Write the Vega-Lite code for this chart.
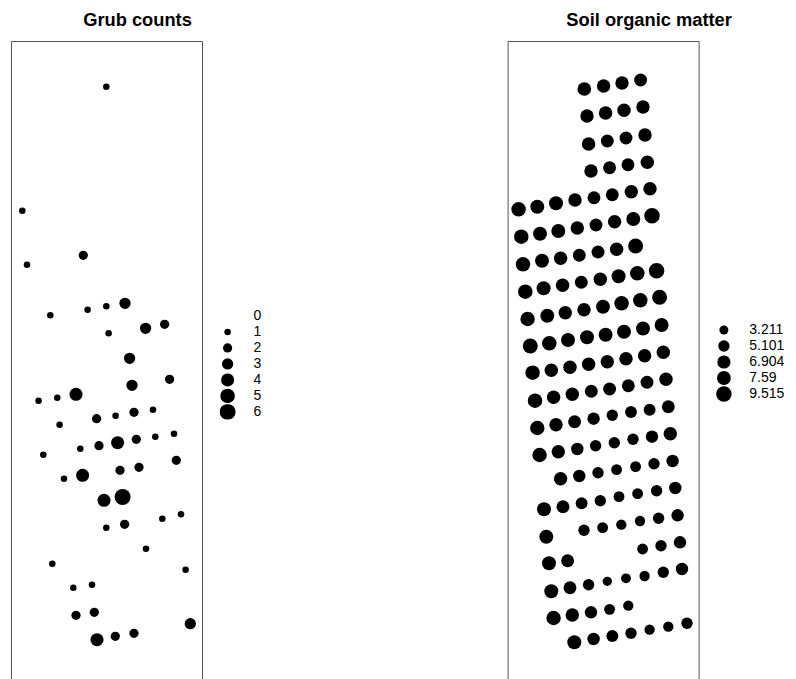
{
  "$schema": "https://vega.github.io/schema/vega-lite/v6.json",
  "background": "white",
  "padding": {"left": 10, "top": 10, "right": 5, "bottom": 0},
  "bounds": "flush",
  "spacing": 305.6,
  "resolve": {"scale": {"size": "independent"}, "legend": {"size": "independent"}},
  "config": {
    "view": {"stroke": "#555555", "strokeWidth": 1},
    "font": "Liberation Sans",
    "title": {"font": "Liberation Sans", "fontSize": 18.3, "fontWeight": "bold", "color": "black", "anchor": "middle", "frame": "group", "offset": 11},
    "legend": {
      "orient": "none", "direction": "vertical", "padding": 0, "rowPadding": 0,
      "labelFont": "Liberation Sans", "labelFontSize": 14, "labelColor": "black",
      "symbolType": "circle", "symbolFillColor": "black", "symbolStrokeWidth": 0, "symbolOpacity": 1
    }
  },
  "datasets": {
    "grubs": [
      {"east": 95.3, "north": 593.3, "grubs": 1},
      {"east": 11.3, "north": 469.3, "grubs": 1},
      {"east": 72.3, "north": 424.7, "grubs": 2},
      {"east": 16.0, "north": 415.3, "grubs": 1},
      {"east": 39.3, "north": 364.7, "grubs": 1},
      {"east": 76.6, "north": 370.3, "grubs": 1},
      {"east": 95.3, "north": 373.7, "grubs": 1},
      {"east": 114.0, "north": 376.7, "grubs": 3},
      {"east": 134.6, "north": 351.7, "grubs": 3},
      {"east": 153.6, "north": 355.7, "grubs": 2},
      {"east": 97.6, "north": 346.7, "grubs": 1},
      {"east": 118.6, "north": 321.7, "grubs": 3},
      {"east": 121.0, "north": 294.7, "grubs": 3},
      {"east": 158.6, "north": 300.7, "grubs": 2},
      {"east": 27.6, "north": 279.3, "grubs": 1},
      {"east": 46.3, "north": 282.3, "grubs": 1},
      {"east": 65.0, "north": 285.7, "grubs": 4},
      {"east": 142.0, "north": 270.3, "grubs": 1},
      {"east": 123.0, "north": 267.7, "grubs": 2},
      {"east": 104.6, "north": 264.3, "grubs": 1},
      {"east": 85.6, "north": 261.3, "grubs": 2},
      {"east": 48.6, "north": 255.3, "grubs": 1},
      {"east": 163.0, "north": 246.3, "grubs": 1},
      {"east": 144.3, "north": 243.3, "grubs": 1},
      {"east": 125.3, "north": 240.7, "grubs": 2},
      {"east": 106.6, "north": 237.3, "grubs": 4},
      {"east": 88.0, "north": 234.3, "grubs": 2},
      {"east": 69.3, "north": 231.3, "grubs": 1},
      {"east": 32.3, "north": 225.3, "grubs": 1},
      {"east": 165.3, "north": 219.7, "grubs": 2},
      {"east": 128.0, "north": 212.7, "grubs": 2},
      {"east": 109.0, "north": 209.7, "grubs": 2},
      {"east": 71.6, "north": 204.7, "grubs": 4},
      {"east": 53.0, "north": 201.3, "grubs": 1},
      {"east": 111.6, "north": 183.0, "grubs": 6},
      {"east": 93.0, "north": 179.7, "grubs": 4},
      {"east": 170.0, "north": 165.7, "grubs": 1},
      {"east": 151.3, "north": 161.3, "grubs": 1},
      {"east": 113.6, "north": 155.7, "grubs": 2},
      {"east": 95.3, "north": 152.3, "grubs": 1},
      {"east": 135.0, "north": 131.3, "grubs": 1},
      {"east": 41.3, "north": 116.3, "grubs": 1},
      {"east": 174.6, "north": 110.3, "grubs": 1},
      {"east": 81.0, "north": 95.3, "grubs": 1},
      {"east": 62.3, "north": 92.3, "grubs": 1},
      {"east": 83.3, "north": 67.7, "grubs": 2},
      {"east": 65.0, "north": 64.7, "grubs": 2},
      {"east": 179.3, "north": 56.3, "grubs": 3},
      {"east": 123.0, "north": 46.7, "grubs": 2},
      {"east": 104.3, "north": 43.7, "grubs": 2},
      {"east": 86.0, "north": 40.3, "grubs": 4}
    ],
    "soil": [
      {"east": 76.7, "north": 591.0, "om": 7.48},
      {"east": 96.0, "north": 594.0, "om": 7.15},
      {"east": 114.4, "north": 597.0, "om": 7.15},
      {"east": 133.0, "north": 600.0, "om": 6.61},
      {"east": 79.4, "north": 564.0, "om": 7.15},
      {"east": 98.0, "north": 567.0, "om": 7.15},
      {"east": 116.4, "north": 569.7, "om": 7.15},
      {"east": 135.4, "north": 573.0, "om": 7.15},
      {"east": 81.0, "north": 536.0, "om": 7.15},
      {"east": 99.7, "north": 539.0, "om": 6.61},
      {"east": 118.4, "north": 542.0, "om": 6.61},
      {"east": 137.4, "north": 545.0, "om": 7.15},
      {"east": 83.4, "north": 509.0, "om": 7.15},
      {"east": 102.0, "north": 512.3, "om": 6.61},
      {"east": 120.4, "north": 515.3, "om": 6.61},
      {"east": 139.7, "north": 517.7, "om": 7.15},
      {"east": 11.0, "north": 470.7, "om": 8.29},
      {"east": 29.7, "north": 473.3, "om": 7.71},
      {"east": 48.4, "north": 476.7, "om": 7.71},
      {"east": 67.4, "north": 480.0, "om": 7.15},
      {"east": 86.4, "north": 482.3, "om": 6.61},
      {"east": 104.7, "north": 485.3, "om": 6.61},
      {"east": 123.7, "north": 488.3, "om": 7.15},
      {"east": 142.4, "north": 491.3, "om": 7.15},
      {"east": 13.7, "north": 443.3, "om": 8.29},
      {"east": 32.4, "north": 446.3, "om": 7.71},
      {"east": 50.7, "north": 449.0, "om": 7.71},
      {"east": 69.7, "north": 452.0, "om": 7.15},
      {"east": 88.4, "north": 455.0, "om": 6.61},
      {"east": 107.0, "north": 458.3, "om": 7.15},
      {"east": 125.7, "north": 461.0, "om": 7.71},
      {"east": 144.4, "north": 464.3, "om": 9.52},
      {"east": 15.4, "north": 415.7, "om": 8.29},
      {"east": 34.4, "north": 419.3, "om": 7.71},
      {"east": 53.0, "north": 421.7, "om": 7.15},
      {"east": 71.7, "north": 424.7, "om": 6.61},
      {"east": 90.4, "north": 428.0, "om": 6.61},
      {"east": 109.0, "north": 430.7, "om": 7.15},
      {"east": 128.0, "north": 434.0, "om": 8.89},
      {"east": 17.7, "north": 388.3, "om": 8.29},
      {"east": 36.0, "north": 391.7, "om": 7.71},
      {"east": 55.0, "north": 394.7, "om": 7.15},
      {"east": 73.7, "north": 397.7, "om": 6.61},
      {"east": 92.7, "north": 400.7, "om": 7.15},
      {"east": 111.0, "north": 403.7, "om": 7.71},
      {"east": 129.7, "north": 406.7, "om": 8.29},
      {"east": 149.0, "north": 409.3, "om": 9.52},
      {"east": 20.0, "north": 361.0, "om": 8.29},
      {"east": 39.7, "north": 364.3, "om": 7.71},
      {"east": 57.7, "north": 367.3, "om": 7.15},
      {"east": 76.4, "north": 370.3, "om": 7.15},
      {"east": 95.4, "north": 373.3, "om": 7.71},
      {"east": 114.0, "north": 376.7, "om": 8.29},
      {"east": 132.7, "north": 379.7, "om": 8.29},
      {"east": 152.0, "north": 382.7, "om": 8.89},
      {"east": 22.7, "north": 334.0, "om": 8.89},
      {"east": 41.7, "north": 336.7, "om": 8.29},
      {"east": 60.4, "north": 340.0, "om": 7.71},
      {"east": 79.4, "north": 342.7, "om": 7.71},
      {"east": 98.0, "north": 345.3, "om": 7.71},
      {"east": 116.4, "north": 348.3, "om": 7.71},
      {"east": 135.4, "north": 351.5, "om": 7.71},
      {"east": 154.0, "north": 355.0, "om": 7.71},
      {"east": 25.0, "north": 307.3, "om": 8.29},
      {"east": 43.7, "north": 309.7, "om": 7.15},
      {"east": 62.4, "north": 312.7, "om": 7.15},
      {"east": 81.0, "north": 315.7, "om": 7.15},
      {"east": 99.7, "north": 318.3, "om": 7.15},
      {"east": 118.4, "north": 321.3, "om": 7.15},
      {"east": 137.0, "north": 324.3, "om": 7.15},
      {"east": 155.7, "north": 327.7, "om": 7.15},
      {"east": 27.4, "north": 279.3, "om": 8.29},
      {"east": 46.0, "north": 282.7, "om": 7.15},
      {"east": 64.7, "north": 285.7, "om": 7.15},
      {"east": 83.7, "north": 288.7, "om": 6.61},
      {"east": 102.0, "north": 291.0, "om": 6.61},
      {"east": 120.7, "north": 294.3, "om": 6.61},
      {"east": 139.4, "north": 297.7, "om": 6.61},
      {"east": 158.4, "north": 300.7, "om": 7.15},
      {"east": 29.7, "north": 252.0, "om": 8.29},
      {"east": 48.4, "north": 255.3, "om": 7.15},
      {"east": 67.0, "north": 258.3, "om": 6.61},
      {"east": 86.0, "north": 261.3, "om": 6.09},
      {"east": 104.7, "north": 264.7, "om": 5.12},
      {"east": 123.4, "north": 268.0, "om": 5.59},
      {"east": 142.0, "north": 270.3, "om": 5.59},
      {"east": 160.7, "north": 273.3, "om": 6.61},
      {"east": 32.0, "north": 225.0, "om": 8.29},
      {"east": 50.7, "north": 228.3, "om": 7.15},
      {"east": 69.7, "north": 231.0, "om": 6.09},
      {"east": 88.0, "north": 234.3, "om": 5.12},
      {"east": 106.7, "north": 237.3, "om": 5.12},
      {"east": 125.4, "north": 240.7, "om": 5.12},
      {"east": 144.4, "north": 243.3, "om": 6.09},
      {"east": 162.7, "north": 246.3, "om": 7.15},
      {"east": 53.0, "north": 201.3, "om": 7.15},
      {"east": 71.7, "north": 204.0, "om": 6.09},
      {"east": 90.4, "north": 207.3, "om": 5.12},
      {"east": 109.0, "north": 210.3, "om": 4.66},
      {"east": 128.0, "north": 213.3, "om": 4.66},
      {"east": 146.4, "north": 216.3, "om": 5.12},
      {"east": 165.0, "north": 219.0, "om": 6.09},
      {"east": 36.4, "north": 170.7, "om": 7.71},
      {"east": 55.4, "north": 173.3, "om": 6.61},
      {"east": 74.0, "north": 176.7, "om": 5.59},
      {"east": 92.7, "north": 179.3, "om": 5.12},
      {"east": 111.4, "north": 183.3, "om": 4.66},
      {"east": 130.0, "north": 186.3, "om": 4.66},
      {"east": 149.0, "north": 189.3, "om": 5.12},
      {"east": 167.7, "north": 192.0, "om": 6.09},
      {"east": 38.7, "north": 143.3, "om": 7.71},
      {"east": 76.4, "north": 149.7, "om": 5.12},
      {"east": 95.0, "north": 152.3, "om": 4.66},
      {"east": 113.7, "north": 155.3, "om": 4.23},
      {"east": 132.4, "north": 159.0, "om": 4.23},
      {"east": 151.0, "north": 161.7, "om": 5.12},
      {"east": 170.0, "north": 164.7, "om": 6.09},
      {"east": 41.4, "north": 116.7, "om": 7.71},
      {"east": 60.0, "north": 119.3, "om": 6.61},
      {"east": 135.0, "north": 131.0, "om": 4.66},
      {"east": 153.4, "north": 134.3, "om": 5.12},
      {"east": 172.4, "north": 137.7, "om": 6.09},
      {"east": 43.7, "north": 88.7, "om": 7.71},
      {"east": 62.4, "north": 92.3, "om": 6.61},
      {"east": 81.0, "north": 95.3, "om": 5.12},
      {"east": 99.7, "north": 98.7, "om": 3.43},
      {"east": 118.4, "north": 101.7, "om": 3.82},
      {"east": 137.0, "north": 104.0, "om": 4.23},
      {"east": 155.7, "north": 107.7, "om": 5.12},
      {"east": 174.4, "north": 111.0, "om": 6.09},
      {"east": 46.0, "north": 62.0, "om": 8.29},
      {"east": 64.7, "north": 65.0, "om": 7.15},
      {"east": 83.4, "north": 67.7, "om": 6.09},
      {"east": 102.0, "north": 70.7, "om": 4.66},
      {"east": 120.7, "north": 74.3, "om": 4.23},
      {"east": 66.7, "north": 37.7, "om": 7.71},
      {"east": 86.0, "north": 41.0, "om": 6.09},
      {"east": 104.7, "north": 44.0, "om": 5.59},
      {"east": 123.4, "north": 46.7, "om": 5.12},
      {"east": 142.0, "north": 50.3, "om": 4.23},
      {"east": 160.7, "north": 53.3, "om": 4.23},
      {"east": 179.4, "north": 56.7, "om": 5.12}
    ]
  },
  "hconcat": [
    {
      "title": {"text": "Grub counts", "dx": 31},
      "width": 191,
      "height": 650,
      "data": {"name": "grubs"},
      "mark": {"type": "circle", "color": "black", "opacity": 1},
      "encoding": {
        "x": {"field": "east", "type": "quantitative", "scale": {"domain": [0, 191], "nice": false, "zero": false}, "axis": null},
        "y": {"field": "north", "type": "quantitative", "scale": {"domain": [-11, 639], "nice": false, "zero": false}, "axis": null},
        "size": {
          "field": "grubs", "type": "quantitative",
          "scale": {"domain": [0, 6], "range": [0, 256], "zero": true},
          "legend": {"title": null, "values": [0, 1, 2, 3, 4, 5, 6], "legendX": 208.6, "legendY": 267.3, "clipHeight": 15.3, "labelOffset": 18}
        }
      }
    },
    {
      "title": {"text": "Soil organic matter", "dx": 46},
      "width": 191,
      "height": 650,
      "data": {"name": "soil"},
      "mark": {"type": "circle", "color": "black", "opacity": 1},
      "encoding": {
        "x": {"field": "east", "type": "quantitative", "scale": {"domain": [0, 191], "nice": false, "zero": false}, "axis": null},
        "y": {"field": "north", "type": "quantitative", "scale": {"domain": [-11, 639], "nice": false, "zero": false}, "axis": null},
        "size": {
          "field": "om", "type": "quantitative",
          "scale": {"domain": [0, 9.515], "range": [0, 240], "zero": true},
          "legend": {"title": null, "values": [3.211, 5.101, 6.904, 7.59, 9.515], "labelExpr": "'' + datum.value", "legendX": 208.3, "legendY": 281, "clipHeight": 16, "labelOffset": 17.3}
        }
      }
    }
  ]
}
